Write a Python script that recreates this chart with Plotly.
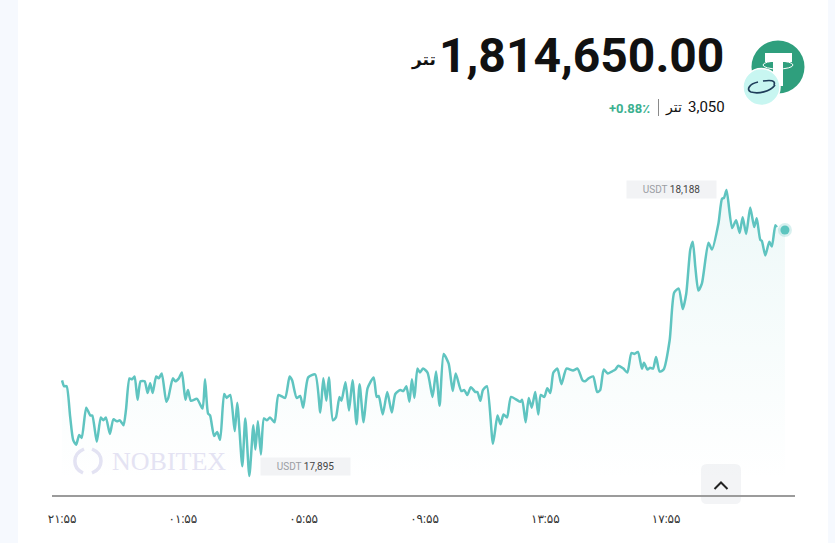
import plotly.graph_objects as go

# USDT price over the last 24 hours (minutes since 21:55, price)
minutes = [0, 4, 9, 16, 22, 28, 34, 39, 48, 56, 60, 69, 77, 82, 87, 95, 102, 109, 115, 122,
           127, 134, 139, 144, 150, 156, 164, 170, 175, 180, 187, 192, 198, 207, 211, 220, 225, 232, 238, 245,
           250, 256, 268, 279, 284, 290, 294, 302, 308, 314, 322, 327, 334, 343, 348, 358, 364, 372, 380, 384,
           389, 395, 401, 407, 413, 422, 430, 443, 452, 457, 466, 473, 479, 489, 503, 513, 519, 525, 530, 538,
           544, 551, 555, 563, 570, 577, 585, 591, 599, 607, 619, 625, 629, 637, 646, 655, 662, 672, 678, 684,
           690, 695, 700, 706, 711, 717, 726, 736, 743, 750, 758, 768, 776, 782, 793, 799, 805, 812, 821, 825,
           831, 836, 844, 856, 865, 871, 877, 884, 892, 910, 914, 921, 927, 933, 940, 946, 951, 958, 964, 970,
           976, 984, 992, 1002, 1015, 1024, 1034, 1039, 1046, 1055, 1063, 1069, 1076, 1084, 1092, 1099, 1105, 1115, 1123, 1131,
           1137, 1144, 1152, 1156, 1163, 1168, 1174, 1180, 1187, 1195, 1207, 1216, 1225, 1233, 1240, 1248, 1253, 1258, 1264, 1271,
           1284, 1291, 1304, 1311, 1315, 1320, 1331, 1339, 1346, 1352, 1359, 1367, 1375, 1380, 1387, 1390, 1397, 1405, 1410, 1417,
           1420, 1436]
prices = [17993, 17987, 17987, 17956, 17932, 17927, 17937, 17934, 17965, 17957, 17957, 17930, 17955, 17952, 17955, 17938, 17953, 17951, 17952, 17947,
          17963, 17995, 17994, 17997, 17973, 17992, 17992, 17980, 17990, 17980, 17997, 17995, 18000, 17971, 17975, 17995, 17992, 17995, 18001, 17973,
          17983, 17972, 17974, 17964, 17994, 17959, 17957, 17936, 17940, 17932, 17979, 17975, 17978, 17941, 17970, 17905, 17954, 17895, 17947, 17922,
          17951, 17917, 17954, 17952, 17955, 17950, 17978, 17975, 17997, 17993, 17975, 17977, 17965, 17996, 17999, 17960, 17995, 17972, 17996, 17952,
          17955, 17976, 17972, 17991, 17962, 17993, 17948, 17989, 17950, 17985, 17996, 17976, 17977, 17958, 17981, 17960, 17979, 17983, 17982, 17987,
          17971, 17994, 17975, 18005, 18001, 18005, 18001, 17976, 18002, 17967, 18020, 18010, 17982, 18000, 17982, 17983, 17978, 17986, 17981, 17981,
          17972, 17983, 17987, 17928, 17957, 17948, 17958, 17955, 17976, 17971, 17973, 17950, 17975, 17965, 17981, 17958, 17978, 17976, 17985, 17980,
          18001, 18005, 17989, 18005, 18003, 18005, 17993, 17992, 17995, 17997, 17981, 17983, 18004, 18000, 18002, 18004, 18008, 18005, 18001, 18021,
          18020, 18022, 18005, 18011, 18004, 18006, 18005, 18017, 18002, 18004, 18034, 18083, 18087, 18066, 18082, 18127, 18135, 18109, 18085, 18092,
          18134, 18127, 18154, 18179, 18180, 18188, 18149, 18157, 18144, 18160, 18143, 18170, 18150, 18159, 18137, 18136, 18121, 18135, 18130, 18152,
          18150, 18147]

tick_minutes = [0, 240, 480, 720, 960, 1200]
tick_labels = ["۲۱:۵۵", "۰۱:۵۵", "۰۵:۵۵", "۰۹:۵۵", "۱۳:۵۵", "۱۷:۵۵"]

price_text = "1,814,650.00"
change_text = "3,050"
percent_text = "+0.88٪"
unit_text = "تتر"

W, H = 835, 543
LEFT, RIGHT, TOP, BOTTOM = 52, 795, 150, 495
Y_MIN, Y_MAX = 17875.5, 18229
TEAL = "#5fc4c0"
FONT = "Roboto, 'Noto Sans', 'DejaVu Sans', sans-serif"


# Page pixel helpers for the header, logo and button decorations
def px(x):
    return (x - LEFT) / (RIGHT - LEFT)


def py(y):
    return (BOTTOM - y) / (BOTTOM - TOP)


def paper_path(points):
    out = []
    for item in points:
        if isinstance(item, str):
            out.append(item)
        else:
            out.append(f"{px(item[0]):.5f},{py(item[1]):.5f}")
    return " ".join(out)


def rect(x0, y0, x1, y1, fill, layer="below"):
    return dict(type="rect", xref="paper", yref="paper", x0=px(x0), x1=px(x1), y0=py(y0), y1=py(y1),
                fillcolor=fill, line_width=0, layer=layer)


def circle(cx, cy, r, fill, line=None, width=0, layer="above"):
    return dict(type="circle", xref="paper", yref="paper", x0=px(cx - r), x1=px(cx + r), y0=py(cy - r), y1=py(cy + r),
                fillcolor=fill, line=dict(color=line or fill, width=width), layer=layer)


def curve(points, color, width, fill="rgba(0,0,0,0)", layer="above"):
    return dict(type="path", xref="paper", yref="paper", path=paper_path(points), fillcolor=fill,
                line=dict(color=color, width=width), layer=layer)


def label(x, y, text, size, color="#111111", anchor="left", family=FONT):
    return dict(xref="paper", yref="paper", x=px(x), y=py(y), text=text, showarrow=False, xanchor=anchor,
                yanchor="middle", font=dict(size=size, color=color, family=family))


fig = go.Figure()

# Invisible floor for the area, so the gradient ends at the axis
fig.add_trace(go.Scatter(x=minutes, y=[Y_MIN] * len(minutes), mode="lines", line=dict(width=0),
                         hoverinfo="skip", showlegend=False))
fig.add_trace(go.Scatter(x=minutes, y=prices, mode="none", fill="tonexty", line=dict(shape="spline", smoothing=0.6),
                         fillgradient=dict(type="vertical", start=Y_MIN + 15, stop=max(prices),
                                           colorscale=[[0, "rgba(95,196,192,0)"], [1, "rgba(95,196,192,0.11)"]]),
                         hoverinfo="skip", showlegend=False))
fig.add_trace(go.Scatter(x=minutes[:-1], y=prices[:-1], mode="lines",
                         line=dict(color=TEAL, width=2.5, shape="spline", smoothing=0.6), showlegend=False))
# Pulsing marker on the latest price
fig.add_trace(go.Scatter(x=minutes[-1:], y=prices[-1:], mode="markers",
                         marker=dict(size=14, color="rgba(95,196,192,0.25)", line=dict(width=0)),
                         showlegend=False))
fig.add_trace(go.Scatter(x=minutes[-1:], y=prices[-1:], mode="markers",
                         marker=dict(size=9, color="#5cc5bf", line=dict(width=0)),
                         showlegend=False))

high, low = max(prices), min(prices)
high_m, low_m = minutes[prices.index(high)], minutes[prices.index(low)]


def extreme_tag(m, v, xanchor, xshift, yshift):
    return dict(x=m, y=v, xref="x", yref="y", showarrow=False, xanchor=xanchor, yanchor="middle",
                xshift=xshift, yshift=yshift, width=87, height=15, align="center", bgcolor="#f2f3f5",
                text=f"<span style='color:#9a9da3'>USDT</span> <span style='color:#444'>{v:,}</span>",
                font=dict(size=10, family=FONT))


annotations = [
    label(726, 55, f"<b>{price_text}</b>", 48, anchor="right"),
    label(438, 60, f"<b>{unit_text}</b>", 17, anchor="right"),
    label(727, 107, change_text, 15, anchor="right"),
    label(684, 107, unit_text, 14, anchor="right"),
    label(652, 108, f"<b>{percent_text}</b>", 13, color="#3bb08f", anchor="right"),
    label(110, 461, "NOBITEX", 26, color="#e4e3f3", family="'Liberation Serif', serif"),
    extreme_tag(high_m, high, "right", -10, 1),
    extreme_tag(low_m, low, "left", 11, 9),
]

shapes = [
    rect(0, 0, 18, H, "#f6f9fe"),
    rect(828, 0, W, H, "#f6f9fe"),
    rect(658, 99, 659, 116, "#8a8a8a"),
    # Currency badge
    circle(778, 67, 26.5, "#2f9f7d"),
    rect(765, 53, 792, 62, "#ffffff", layer="above"),
    rect(773, 62, 783, 86, "#ffffff", layer="above"),
    dict(type="circle", xref="paper", yref="paper", x0=px(763), x1=px(793), y0=py(61), y1=py(69),
         fillcolor="rgba(0,0,0,0)", line=dict(color="#ffffff", width=1), layer="above"),
    circle(761.5, 87, 18.5, "#c8f6f1", line="#ffffff", width=1.5),
    curve(["M", (774, 85), "C", (776, 80), (770, 80), (763, 81), "M", (758, 82), "C", (749, 84), (746, 90), (751, 92),
           "C", (758, 94), (770, 92), (775, 85)], "#1e3d5a", 1.7),
    # Scroll-up button
    curve(["M", (707, 464), "L", (735, 464), "Q", (741, 464), (741, 470), "L", (741, 498), "Q", (741, 504), (735, 504),
           "L", (707, 504), "Q", (701, 504), (701, 498), "L", (701, 470), "Q", (701, 464), (707, 464), "Z"],
          "rgba(0,0,0,0)", 0, fill="#f3f4f6", layer="below"),
    curve(["M", (714.5, 489), "L", (721, 482.5), "L", (727.5, 489)], "#222222", 2),
    # Watermark emblem
    curve(["M", (84, 449), "C", (72, 454), (72, 468), (83, 473)], "#e4e3f3", 3.5, layer="below"),
    curve(["M", (92, 449), "C", (104, 454), (104, 468), (92, 473)], "#e4e3f3", 3.5, layer="below"),
]

fig.update_layout(
    width=W, height=H, autosize=False,
    margin=dict(l=LEFT, r=W - RIGHT, t=TOP, b=H - BOTTOM, pad=0),
    paper_bgcolor="#ffffff", plot_bgcolor="rgba(0,0,0,0)",
    showlegend=False, annotations=annotations, shapes=shapes,
    xaxis=dict(range=[-20, 1456], showgrid=False, zeroline=False, showline=True, linecolor="#9b9b9b", linewidth=1.5,
               tickmode="array", tickvals=tick_minutes, ticktext=tick_labels, ticks="outside", ticklen=12,
               tickcolor="rgba(0,0,0,0)", tickangle=0, tickfont=dict(size=12, color="#333333", family=FONT)),
    yaxis=dict(range=[Y_MIN, Y_MAX], visible=False),
)

fig.write_html("out.html")
